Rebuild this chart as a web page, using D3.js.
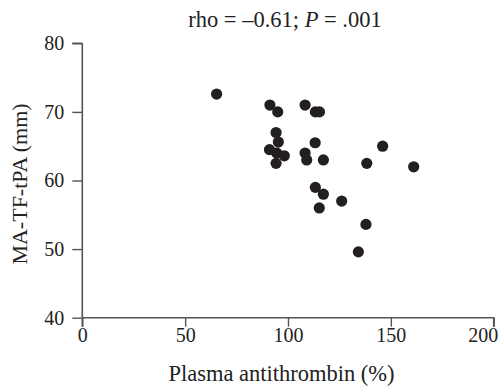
<!DOCTYPE html>
<html><head><meta charset="utf-8">
<script src="https://cdn.jsdelivr.net/npm/d3@7/dist/d3.min.js"></script>
<style>body{margin:0;background:#fff}svg{display:block}</style>
</head><body>
<svg id="c" width="500" height="386"></svg>
<script>
const antithrombin = [65.3,91.2,95.0,108.3,113.3,115.3,94.2,95.3,91.0,94.5,98.2,94.2,108.3,109.1,113.2,117.2,146.0,138.3,161.1,113.3,117.2,126.1,115.2,137.9,134.2];
const maTFtPA     = [72.6,71.0,70.0,71.0,70.0,70.0,67.0,65.6,64.5,64.0,63.6,62.5,64.0,63.0,65.5,63.0,65.0,62.5,62.0,59.0,58.0,57.0,56.0,53.6,49.6];
const xTicks = [0,50,100,150,200];
const yTicks = [40,50,60,70,80];
const titleText = "rho = \u20130.61; ";
const xLabel = "Plasma antithrombin (%)";
const yLabel = "MA-TF-tPA (mm)";

const svg = d3.select("#c");
const font = "Liberation Serif, Times New Roman, serif";
const x = d3.scaleLinear().domain([0,200]).range([82.3,493.7]);
const y = d3.scaleLinear().domain([40,80]).range([317.7,43.3]);
const axisColor = "#555";

const gx = svg.append("g").attr("transform",`translate(0,${y(40)})`)
  .call(d3.axisBottom(x).tickValues(xTicks).tickSize(9).tickPadding(1).tickFormat(d3.format("d")));
const gy = svg.append("g").attr("transform",`translate(${x(0)},0)`)
  .call(d3.axisLeft(y).tickValues(yTicks).tickSize(10).tickPadding(8).tickFormat(d3.format("d")));
[gx,gy].forEach(g=>{
  g.select(".domain").attr("stroke",axisColor).attr("stroke-width",1.6);
  g.selectAll(".tick line").attr("stroke",axisColor).attr("stroke-width",1.4);
  g.selectAll(".tick text").attr("fill","#222").attr("font-family",font).attr("font-size","20px");
});
gx.selectAll(".tick text").filter(d=>d===200).attr("dx","-11");
gx.select(".domain").attr("d",`M${x(0)},0H${x(200)}V9`);
gy.select(".domain").attr("d",`M0,${y(80)}H-10M0,${y(80)}V${y(40)+9}`);

svg.append("g").selectAll("circle").data(antithrombin.map((v,i)=>[v,maTFtPA[i]]))
  .join("circle").attr("cx",d=>x(d[0])).attr("cy",d=>y(d[1])).attr("r",5.6).attr("fill","#231f20");

const t = svg.append("text").attr("x",285).attr("y",26.5).attr("text-anchor","middle")
  .attr("font-family",font).attr("font-size","22.5px").attr("fill","#222");
t.append("tspan").text(titleText);
t.append("tspan").attr("font-style","italic").text("P");
t.append("tspan").text(" = .001");

svg.append("text").attr("x",281.5).attr("y",381).attr("text-anchor","middle")
  .attr("font-family",font).attr("font-size","22.5px").attr("fill","#222").text(xLabel);
svg.append("text").attr("transform","translate(26.5,184) rotate(-90)").attr("text-anchor","middle")
  .attr("font-family",font).attr("font-size","22px").attr("fill","#222").text(yLabel);
</script>
</body></html>
